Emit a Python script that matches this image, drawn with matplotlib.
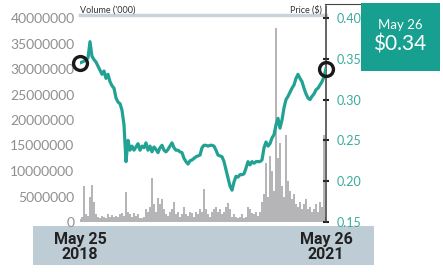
import matplotlib
matplotlib.use("Agg")
import matplotlib.pyplot as plt
import numpy as np
import pandas as pd
from matplotlib.patches import Rectangle
from matplotlib.lines import Line2D

plt.rcParams['font.family'] = ['Lato', 'DejaVu Sans']

# ---- data ----
start_date = "2018-05-25"
end_date = "2021-05-26"

price = [0.345, 0.346, 0.347, 0.349, 0.351, 0.371, 0.353, 0.349, 0.346, 0.341,
         0.336, 0.331, 0.335, 0.326, 0.331, 0.322, 0.317, 0.314, 0.302, 0.297,
         0.295, 0.287, 0.269, 0.224, 0.250, 0.238, 0.243, 0.238, 0.242, 0.246,
         0.238, 0.243, 0.241, 0.247, 0.238, 0.243, 0.236, 0.242, 0.239, 0.235,
         0.241, 0.244, 0.238, 0.236, 0.239, 0.243, 0.247, 0.241, 0.238, 0.238,
         0.236, 0.235, 0.228, 0.224, 0.221, 0.225, 0.226, 0.228, 0.230, 0.231,
         0.232, 0.241, 0.244, 0.244, 0.243, 0.244, 0.244, 0.243, 0.238, 0.232,
         0.231, 0.230, 0.224, 0.214, 0.204, 0.194, 0.189, 0.199, 0.206, 0.205,
         0.208, 0.208, 0.209, 0.216, 0.224, 0.220, 0.224, 0.222, 0.224, 0.224,
         0.224, 0.226, 0.241, 0.248, 0.243, 0.246, 0.253, 0.257, 0.269, 0.277,
         0.265, 0.275, 0.290, 0.300, 0.304, 0.309, 0.314, 0.318, 0.326, 0.331,
         0.326, 0.322, 0.314, 0.307, 0.302, 0.300, 0.304, 0.307, 0.312, 0.314,
         0.318, 0.322, 0.328, 0.338]

volume_m = [0.5, 1.0, 7.0, 1.5, 1.2, 5.0, 7.2, 4.0, 1.5, 1.0,
            0.8, 1.2, 1.0, 0.8, 1.5, 1.0, 1.3, 0.9, 1.2, 1.0,
            1.5, 1.8, 1.2, 5.8, 2.0, 1.5, 1.0, 1.8, 1.2, 1.5,
            0.8, 0.7, 1.0, 2.5, 2.0, 3.0, 8.6, 3.5, 2.0, 4.8,
            3.5, 4.5, 2.5, 1.5, 1.2, 2.0, 2.5, 4.0, 1.5, 2.0,
            1.0, 1.5, 3.0, 1.5, 1.2, 2.0, 1.8, 1.0, 2.0, 1.5,
            2.5, 2.0, 6.4, 2.5, 1.5, 1.0, 2.0, 2.5, 3.0, 2.0,
            2.5, 1.5, 2.0, 3.0, 3.8, 2.5, 1.0, 1.5, 1.0, 0.8,
            1.0, 1.5, 0.8, 1.0, 3.0, 2.5, 1.8, 1.5, 2.0, 1.2,
            2.0, 4.0, 5.5, 11.5, 5.0, 13.0, 10.0, 6.0, 38.0, 12.5,
            15.4, 7.0, 5.0, 17.0, 8.0, 6.0, 4.5, 5.5, 3.5, 3.0,
            4.0, 2.5, 3.5, 4.5, 2.5, 3.0, 2.0, 2.5, 3.5, 2.0,
            4.0, 3.0, 17.0, 1.0]

vol_ticks = [0, 5000000, 10000000, 15000000, 20000000, 25000000, 30000000, 35000000, 40000000]
price_ticks = [0.15, 0.20, 0.25, 0.30, 0.35, 0.40]
x_labels = ["May 25\n2018", "May 26\n2021"]
box_date = "May 26"
box_price = "$0.34"

dates = pd.date_range(start_date, end_date, periods=len(price))
volume = np.array(volume_m) * 1e6

TEAL = '#21a292'
BOX = '#17a08f'

fig = plt.figure(figsize=(4.43, 2.75), dpi=100)
W, H = 443, 275

# bottom band
fig.patches.append(Rectangle((33 / W, 1 - 265 / H), (374 - 33) / W, (265 - 226) / H,
                             transform=fig.transFigure, facecolor='#bdccd5',
                             edgecolor='none', zorder=0))

ax = fig.add_axes([80 / W, 1 - 222 / H, (326 - 80) / W, (222 - 18) / H])
ax.set_zorder(1)
ax.patch.set_alpha(0)

bar_w = (dates[1] - dates[0]) * 0.75
ax.bar(dates, volume, width=bar_w, color='#b5b5b7', linewidth=0)
ax.set_ylim(0, 40000000)
ax.set_xlim(dates[0], dates[-1])
ax.set_yticks(vol_ticks)
ax.set_yticklabels([str(v) for v in vol_ticks])
ax.tick_params(axis='y', length=0, pad=4, labelsize=10, labelcolor='#8f8f8f')
ax.set_xticks([])
for s in ['left', 'right', 'bottom']:
    ax.spines[s].set_visible(False)
ax.spines['top'].set_color('#c9d3d9')
ax.spines['top'].set_linewidth(2.5)
ax.spines['top'].set_position(('outward', 2))

# date labels at the first and last dates
for d, lab in zip([dates[0], dates[-1]], x_labels):
    ax.annotate(lab, xy=(d, 0), xycoords=('data', 'axes fraction'),
                xytext=(0, -7.5), textcoords='offset points',
                ha='center', va='top', fontsize=11.5, fontweight='bold',
                family=['Roboto', 'DejaVu Sans'], color='#222222', linespacing=0.95,
                annotation_clip=False)

ax2 = ax.twinx()
ax2.plot(dates, price, color=TEAL, linewidth=2.3, solid_joinstyle='round', zorder=3)
ax2.plot([dates[0], dates[-1]], [price[0], price[-1]], linestyle='none', marker='o',
         markersize=10, markerfacecolor='none', markeredgecolor='#1a1a1a',
         markeredgewidth=2.4, zorder=4, clip_on=False)
ax2.set_ylim(0.15, 0.40)
ax2.set_yticks(price_ticks)
ax2.set_yticklabels([f"{p:.2f}" for p in price_ticks])
ax2.tick_params(axis='y', direction='inout', length=4, width=1.5, color='#222222',
                pad=6, labelsize=9, labelcolor='#3aaa9c')
for s in ['left', 'top', 'bottom']:
    ax2.spines[s].set_visible(False)
ax2.spines['right'].set_color('#3a3a3a')
ax2.spines['right'].set_linewidth(1.1)
ax2.spines['right'].set_bounds(0.15, 0.415)

fig.text(80 / W, 1 - 10 / H, "Volume ('000)", fontsize=6.5, color='#333333',
         ha='left', va='center')
fig.text(322 / W, 1 - 10 / H, "Price ($)", fontsize=6.5, color='#333333',
         ha='right', va='center')
fig.add_artist(Line2D([325 / W, 373 / W], [1 - 4 / H, 1 - 4 / H], color='#444444',
                      linewidth=0.8, transform=fig.transFigure))

# value box
fig.patches.append(Rectangle((361 / W, 1 - 71 / H), (440 - 361) / W, (71 - 3) / H,
                             transform=fig.transFigure, facecolor=BOX,
                             edgecolor='none', zorder=5))
fig.text(400 / W, 1 - 25 / H, box_date, fontsize=9.5, color='white',
         ha='center', va='center', zorder=6)
fig.text(400 / W, 1 - 45 / H, box_price, fontsize=15, color='white',
         ha='center', va='center', zorder=6)

fig.savefig("out.png", dpi=100)
